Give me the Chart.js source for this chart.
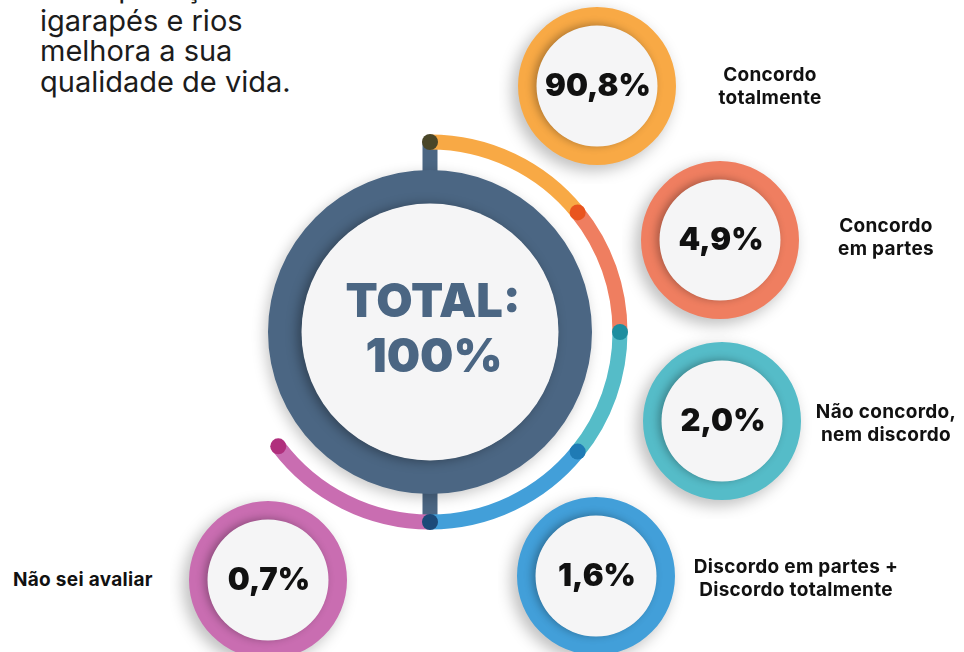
<!DOCTYPE html>
<html>
<head>
<meta charset="utf-8">
<script src="https://cdn.jsdelivr.net/npm/chart.js@4.4.1/dist/chart.umd.min.js"></script>
<style>
  html, body { margin: 0; padding: 0; background: #ffffff; overflow: hidden; }
  #stage { position: relative; width: 964px; height: 652px; overflow: hidden; font-family: Inter, "Open Sans", sans-serif; }
  .holder { position: absolute; }
  .holder canvas { display: block; }
  .lbl { position: absolute; font-weight: 700; font-size: 19px; letter-spacing: 0.3px; line-height: 23px; color: #111; white-space: nowrap; }
  .title { position: absolute; left: 40px; top: -24.8px; font-size: 29px; line-height: 30.5px; color: #1c1c1c; white-space: nowrap; }
  .title div:first-child { position: relative; top: -2px; }
</style>
</head>
<body>
<div id="stage"></div>
<script>
// ---------------- DATA ----------------
const categories = ['Concordo totalmente', 'Concordo em partes', 'Não concordo, nem discordo', 'Discordo em partes + Discordo totalmente', 'Não sei avaliar'];
const labelLines = [['Concordo', 'totalmente'], ['Concordo', 'em partes'], ['Não concordo,', 'nem discordo'], ['Discordo em partes +', 'Discordo totalmente'], ['Não sei avaliar']];
const percentages = [90.8, 4.9, 2.0, 1.6, 0.7];
const totalLines = ['TOTAL:', '100%'];
const titleLines = ['A despoluição dos', 'igarapés e rios', 'melhora a sua', 'qualidade de vida.'];
// decorative span (degrees) of each coloured piece of the outer arc
const arcSpanDeg = [51, 39, 39, 51, 53];

// ---------------- STYLE / LAYOUT ----------------
const ringColors = ['#F8A945', '#EF7E60', '#55BCC8', '#429FD9', '#C96DB1'];
const dotColors = ['#E9541E', '#1C8E9F', '#1F7BB5', '#1C4A78', '#B02F7D'];
const startDotColor = '#4A4628';
const hubColor = '#4B6683';
const discColor = '#F5F5F6';
const mainCenter = [430, 332];
const ringCenters = [[597, 86], [720, 240], [722, 421], [596, 576], [268, 580]];
const labelBoxes = [
  { cx: 770, top: 63 },
  { cx: 886, top: 213.5 },
  { cx: 886, top: 400 },
  { cx: 796, top: 555 },
  { left: 13, top: 567.5 }
];

const stage = document.getElementById('stage');

// title
const t = document.createElement('div');
t.className = 'title';
t.innerHTML = titleLines.map(s => '<div>' + s + '</div>').join('');
stage.appendChild(t);

function makeCanvas(cx, cy, half) {
  const h = document.createElement('div');
  h.className = 'holder';
  h.style.left = (cx - half) + 'px';
  h.style.top = (cy - half) + 'px';
  const c = document.createElement('canvas');
  c.width = half * 2; c.height = half * 2;
  c.style.width = half * 2 + 'px'; c.style.height = half * 2 + 'px';
  h.appendChild(c);
  stage.appendChild(h);
  return c;
}

const arcBase = { borderWidth: 0, hoverBorderWidth: 0, offset: 0, hoverOffset: 0, spacing: 0 };

// ---------------- MAIN HUB CHART ----------------
const hubPlugin = {
  id: 'hubDeco',
  beforeDatasetsDraw(chart) {
    const ctx = chart.ctx;
    const arcs = chart.getDatasetMeta(0).data;
    const hub = chart.getDatasetMeta(2).data[0];
    const cx = hub.x, cy = hub.y;
    const rMid = (arcs[0].innerRadius + arcs[0].outerRadius) / 2;
    const w = 15;
    ctx.save();
    ctx.fillStyle = hubColor;
    ctx.fillRect(cx - w / 2, cy - rMid, w, rMid - hub.outerRadius + 6);
    ctx.fillRect(cx - w / 2, cy + hub.outerRadius - 6, w, rMid - hub.outerRadius + 6);
    ctx.restore();
  },
  beforeDatasetDraw(chart, args) {
    if (args.index === 2) {
      const ctx = chart.ctx;
      ctx.save();
      ctx.shadowColor = 'rgba(0,0,0,0.22)';
      ctx.shadowBlur = 14;
      ctx.shadowOffsetX = -3;
      ctx.shadowOffsetY = 4;
    }
  },
  afterDatasetDraw(chart, args) {
    if (args.index === 2) chart.ctx.restore();
  },
  afterDatasetsDraw(chart) {
    const ctx = chart.ctx;
    const hub = chart.getDatasetMeta(2).data[0];
    const arcs = chart.getDatasetMeta(0).data;
    const cx = hub.x, cy = hub.y;
    // inner light disc
    ctx.save();
    ctx.shadowColor = 'rgba(0,0,0,0.35)';
    ctx.shadowBlur = 12;
    ctx.shadowOffsetX = -4;
    ctx.shadowOffsetY = 1;
    ctx.beginPath();
    ctx.arc(cx, cy, hub.innerRadius + 0.5, 0, Math.PI * 2);
    ctx.fillStyle = discColor;
    ctx.fill();
    ctx.restore();
    // centre text
    ctx.save();
    ctx.fillStyle = hubColor;
    ctx.font = '900 47px Inter, "Open Sans", sans-serif';
    ctx.textAlign = 'center';
    ctx.textBaseline = 'alphabetic';
    ctx.fillText(totalLines[0], cx + 3, cy - 15);
    ctx.fillText(totalLines[1], cx + 4, cy + 40);
    ctx.restore();
    // dots at the arc joints
    const rMid = (arcs[0].innerRadius + arcs[0].outerRadius) / 2;
    const dot = (ang, color) => {
      ctx.beginPath();
      ctx.arc(cx + rMid * Math.cos(ang), cy + rMid * Math.sin(ang), 8, 0, Math.PI * 2);
      ctx.fillStyle = color;
      ctx.fill();
    };
    ctx.save();
    dot(arcs[0].startAngle, startDotColor);
    for (let i = 1; i < arcs.length; i++) dot(arcs[i].startAngle, dotColors[i - 1]);
    dot(arcs[arcs.length - 1].endAngle, dotColors[arcs.length - 1]);
    ctx.restore();
  }
};

const mainHalf = 212;
const mainCanvas = makeCanvas(mainCenter[0], mainCenter[1], mainHalf);
const outerR = 197.5;
new Chart(mainCanvas, {
  type: 'doughnut',
  data: {
    labels: categories,
    datasets: [
      Object.assign({ data: arcSpanDeg, backgroundColor: ringColors, weight: 15, circumference: arcSpanDeg.reduce((a, b) => a + b, 0), rotation: 0 }, arcBase),
      Object.assign({ data: [1], backgroundColor: ['rgba(0,0,0,0)'], weight: 20.5 }, arcBase),
      Object.assign({ data: [1], backgroundColor: [hubColor], weight: 34 }, arcBase)
    ]
  },
  options: {
    responsive: false,
    animation: false,
    events: [],
    cutout: (128 / outerR * 100) + '%',
    layout: { padding: mainHalf - outerR },
    plugins: { legend: { display: false }, tooltip: { enabled: false } }
  },
  plugins: [hubPlugin]
});

// ---------------- SMALL VALUE RINGS ----------------
const ringPlugin = {
  id: 'ringDeco',
  beforeDatasetDraw(chart) {
    const ctx = chart.ctx;
    ctx.save();
    ctx.shadowColor = 'rgba(0,0,0,0.28)';
    ctx.shadowBlur = 16;
    ctx.shadowOffsetX = -5;
    ctx.shadowOffsetY = 5;
  },
  afterDatasetDraw(chart) {
    chart.ctx.restore();
  },
  afterDatasetsDraw(chart) {
    const ctx = chart.ctx;
    const arc = chart.getDatasetMeta(0).data[0];
    const v = chart.data.datasets[0].data[0];
    ctx.save();
    ctx.shadowColor = 'rgba(0,0,0,0.30)';
    ctx.shadowBlur = 9;
    ctx.shadowOffsetX = -3;
    ctx.shadowOffsetY = -1;
    ctx.beginPath();
    ctx.arc(arc.x, arc.y, arc.innerRadius + 0.5, 0, Math.PI * 2);
    ctx.fillStyle = discColor;
    ctx.fill();
    ctx.restore();
    ctx.save();
    ctx.fillStyle = '#111111';
    ctx.font = '900 31px Inter, "Open Sans", sans-serif';
    ctx.textAlign = 'center';
    ctx.textBaseline = 'alphabetic';
    ctx.fillText(v.toFixed(1).replace('.', ',') + '%', arc.x + 1, arc.y + 10);
    ctx.restore();
  }
};

const smallHalf = 98, smallR = 79;
percentages.forEach((p, i) => {
  const c = makeCanvas(ringCenters[i][0], ringCenters[i][1], smallHalf);
  new Chart(c, {
    type: 'doughnut',
    data: {
      labels: [categories[i]],
      datasets: [Object.assign({ data: [p], backgroundColor: [ringColors[i]] }, arcBase)]
    },
    options: {
      responsive: false,
      animation: false,
      events: [],
      cutout: (60 / smallR * 100) + '%',
      layout: { padding: smallHalf - smallR },
      plugins: { legend: { display: false }, tooltip: { enabled: false } }
    },
    plugins: [ringPlugin]
  });
});

// ---------------- CATEGORY LABELS ----------------
labelLines.forEach((lines, i) => {
  const b = labelBoxes[i];
  const d = document.createElement('div');
  d.className = 'lbl';
  d.innerHTML = lines.map(s => '<div>' + s + '</div>').join('');
  d.style.top = b.top + 'px';
  if (b.left !== undefined) {
    d.style.left = b.left + 'px';
    d.style.textAlign = 'left';
  } else {
    d.style.left = (b.cx - 150) + 'px';
    d.style.width = '300px';
    d.style.textAlign = 'center';
  }
  stage.appendChild(d);
});
</script>
</body>
</html>
